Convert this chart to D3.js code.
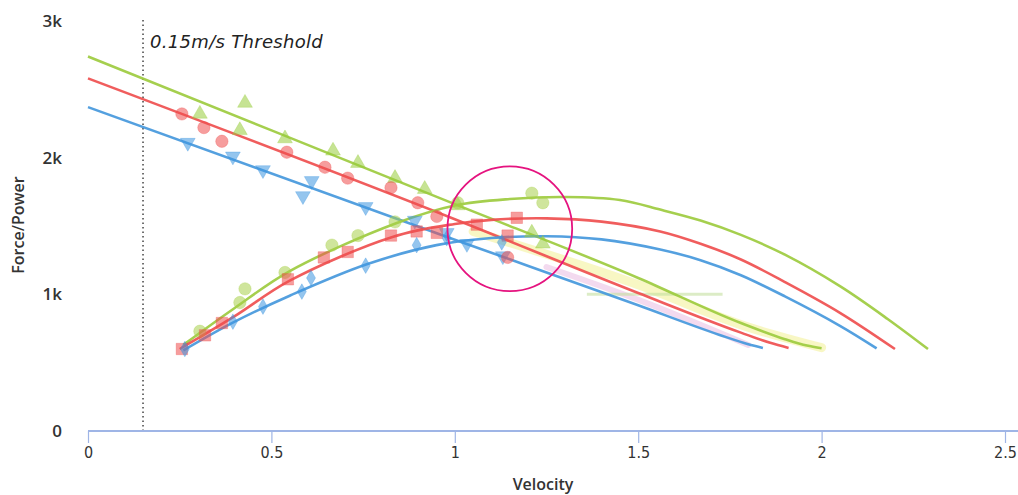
<!DOCTYPE html>
<html><head><meta charset="utf-8">
<script src="https://cdn.jsdelivr.net/npm/d3@7/dist/d3.min.js"></script>
<style>
html,body{margin:0;padding:0;background:#fff;}
svg{display:block;}
</style></head>
<body>
<svg id="chart" width="1018" height="495"></svg>
<script>
// ---------- data (velocity m/s, force/power) ----------
const xTicks = [0, 0.5, 1, 1.5, 2, 2.5];
const xTickLabels = ["0", "0.5", "1", "1.5", "2", "2.5"];
const yTicks = [0, 1000, 2000, 3000];
const yTickLabels = ["0", "1k", "2k", "3k"];
const threshold = 0.15;
const thresholdLabel = "0.15m/s Threshold";
const xTitle = "Velocity";
const yTitle = "Force/Power";

// force-velocity fitted lines
const greenForceLine = [[0,2740],[1,1660],[1.5,1120],[1.78,790],[1.9,672],[1.96,625],[2.0,605]];
const redForceLine   = [[0,2580],[1,1550],[1.5,1010],[1.78,720],[1.86,645],[1.91,608]];
const blueForceLine  = [[0,2370],[1,1400],[1.5,920],[1.72,705],[1.8,635],[1.84,608]];
// power-velocity fitted curves
const greenPowerLine = [[0.26,630],[0.4,900],[0.55,1170],[0.84,1520],[1.0,1650],[1.15,1697],[1.3,1712],[1.45,1690],[1.56,1620],[1.67,1540],[1.78,1435],[1.9,1290],[2.05,1060],[2.18,820],[2.29,600]];
const redPowerLine   = [[0.25,600],[0.4,840],[0.55,1100],[0.83,1420],[1.0,1515],[1.1,1545],[1.25,1556],[1.4,1532],[1.56,1460],[1.67,1370],[1.78,1255],[1.9,1090],[2.05,865],[2.2,600]];
const bluePowerLine  = [[0.26,590],[0.4,800],[0.55,990],[0.76,1220],[0.95,1360],[1.1,1412],[1.25,1425],[1.4,1402],[1.56,1328],[1.67,1250],[1.78,1140],[1.9,985],[2.05,770],[2.15,605]];
// faint ghost traces
const yellowGhost = [[1.05,1460],[1.5,1070],[1.8,760],[2.0,610]];
const pinkGhost   = [[1.25,1200],[1.5,960],[1.8,630]];
const flatGhost   = [[1.36,1000],[1.73,1000]];

// measured points
const greenForcePts = [[0.305,2320],[0.428,2400],[0.414,2200],[0.537,2140],[0.668,2050],[0.736,1960],[0.837,1850],[0.918,1770],[1.008,1650],[1.21,1450],[1.24,1370]];
const redForcePts   = [[0.256,2320],[0.316,2220],[0.365,2120],[0.542,2040],[0.646,1930],[0.708,1850],[0.826,1780],[0.899,1670],[0.951,1570],[1.144,1270]];
const blueForcePts  = [[0.272,2110],[0.395,2010],[0.477,1910],[0.610,1830],[0.586,1720],[0.757,1640],[0.891,1540],[0.978,1450],[1.033,1370],[1.131,1280]];
const greenPowerPts = [[0.305,730],[0.414,940],[0.428,1040],[0.537,1160],[0.665,1360],[0.736,1430],[0.837,1530],[1.008,1670],[1.21,1740],[1.24,1670]];
const redPowerPts   = [[0.256,600],[0.319,700],[0.365,790],[0.545,1110],[0.643,1270],[0.708,1310],[0.826,1430],[0.896,1460],[0.951,1450],[1.060,1510],[1.144,1430],[1.169,1560]];
const bluePowerPts  = [[0.264,600],[0.395,800],[0.477,910],[0.583,1020],[0.608,1120],[0.757,1210],[0.896,1360],[0.978,1410],[1.128,1380]];

// annotation circle (velocity, value, radius in velocity units)
const highlight = {v: 1.15, f: 1480, rv: 0.17};

// ---------- drawing ----------
const W = 1018, H = 495;
const svg = d3.select("#chart");
const x = d3.scaleLinear().domain([0, 2.5]).range([88, 1005]);
const y = d3.scaleLinear().domain([0, 3000]).range([431, 21]);

const GREEN = "#9dcb3f", RED = "#ef4f4f", BLUE = "#4598dc";

const lineM = d3.line().x(d => x(d[0])).y(d => y(d[1])).curve(d3.curveMonotoneX);
const lineC = d3.line().x(d => x(d[0])).y(d => y(d[1])).curve(d3.curveCatmullRom.alpha(0.5));

// ghost traces
svg.append("path").datum(yellowGhost).attr("d", lineM).attr("fill","none")
  .attr("stroke","#f2ef8a").attr("stroke-width",9).attr("opacity",0.5).attr("stroke-linecap","round");
svg.append("path").datum(pinkGhost).attr("d", lineM).attr("fill","none")
  .attr("stroke","#e8b6e0").attr("stroke-width",6).attr("opacity",0.5).attr("stroke-linecap","round");
svg.append("path").datum(flatGhost).attr("d", lineM).attr("fill","none")
  .attr("stroke","#c5dfa0").attr("stroke-width",3).attr("opacity",0.6);

// threshold
svg.append("line").attr("x1", x(threshold)).attr("x2", x(threshold))
  .attr("y1", y(3000) - 1).attr("y2", y(0))
  .attr("stroke","#444").attr("stroke-width",1.5).attr("stroke-dasharray","1.5,3");
svg.append("text").attr("x", x(threshold) + 7).attr("y", 48)
  .attr("font-family","DejaVu Sans").attr("font-style","italic").attr("font-size",18)
  .attr("letter-spacing",0.3).attr("fill","#222").text(thresholdLabel);

// fitted lines
const fits = [
  [greenForceLine, GREEN, lineM],[redForceLine, RED, lineM],[blueForceLine, BLUE, lineM],
  [greenPowerLine, GREEN, lineC],[redPowerLine, RED, lineC],[bluePowerLine, BLUE, lineC]
];
fits.forEach(([data, c, gen]) => {
  svg.append("path").datum(data).attr("d", gen).attr("fill","none")
    .attr("stroke", c).attr("stroke-width", 2.6).attr("opacity",0.92);
});

// markers
function markers(data, type, size, color, rot) {
  const sym = d3.symbol().type(type).size(size);
  svg.append("g").selectAll("path").data(data).join("path")
    .attr("d", sym)
    .attr("transform", d => `translate(${x(d[0])},${y(d[1])}) rotate(${rot||0})`)
    .attr("fill", color).attr("fill-opacity", 0.55)
    .attr("stroke", color).attr("stroke-opacity", 0.3).attr("stroke-width", 1);
}
markers(greenForcePts, d3.symbolTriangle, 95, "#98cc3a");
markers(blueForcePts, d3.symbolTriangle, 95, "#3d96e0", 180);
markers(redForcePts, d3.symbolCircle, 120, "#ee4c4c");
markers(greenPowerPts, d3.symbolCircle, 120, "#a8d04a");
markers(redPowerPts, d3.symbolSquare, 130, "#ee4c4c");
markers(bluePowerPts, d3.symbolDiamond, 70, "#3d96e0");

// highlight circle
svg.append("circle").attr("cx", x(highlight.v)).attr("cy", y(highlight.f))
  .attr("r", x(highlight.rv) - x(0))
  .attr("fill","none").attr("stroke","#e5137f").attr("stroke-width",1.8);

// x axis
const xAxisG = svg.append("g").attr("transform", `translate(0,${y(0)})`);
xAxisG.append("line").attr("x1", x(0)).attr("x2", W).attr("y1",0).attr("y2",0)
  .attr("stroke","#9fb5e6").attr("stroke-width",2);
const xAxis = d3.axisBottom(x).tickValues(xTicks).tickFormat((d,i) => xTickLabels[i])
  .tickSize(12).tickSizeOuter(0).tickPadding(4);
xAxisG.call(xAxis);
xAxisG.select(".domain").remove();
xAxisG.selectAll(".tick line").attr("stroke","#9fb5e6").attr("stroke-width",1.2);
xAxisG.selectAll(".tick text").attr("font-family","DejaVu Sans Condensed, DejaVu Sans")
  .attr("font-stretch","condensed").attr("font-size",16).attr("fill","#333");

// y axis labels
const yAxisG = svg.append("g").attr("transform", `translate(62,0)`);
const yAxis = d3.axisLeft(y).tickValues(yTicks).tickFormat((d,i) => yTickLabels[i])
  .tickSize(0).tickPadding(0);
yAxisG.call(yAxis);
yAxisG.select(".domain").remove();
yAxisG.selectAll(".tick text").attr("font-family","Open Sans").attr("font-weight",600)
  .attr("font-size",17).attr("fill","#333");

// titles
svg.append("text").attr("x", 543).attr("y", 490).attr("text-anchor","middle")
  .attr("font-family","Open Sans").attr("font-weight",600).attr("font-size",16)
  .attr("fill","#333").text(xTitle);
svg.append("text").attr("transform","translate(24,225) rotate(-90)").attr("text-anchor","middle")
  .attr("font-family","Open Sans").attr("font-weight",600).attr("font-size",16)
  .attr("fill","#333").text(yTitle);
</script>
</body></html>
